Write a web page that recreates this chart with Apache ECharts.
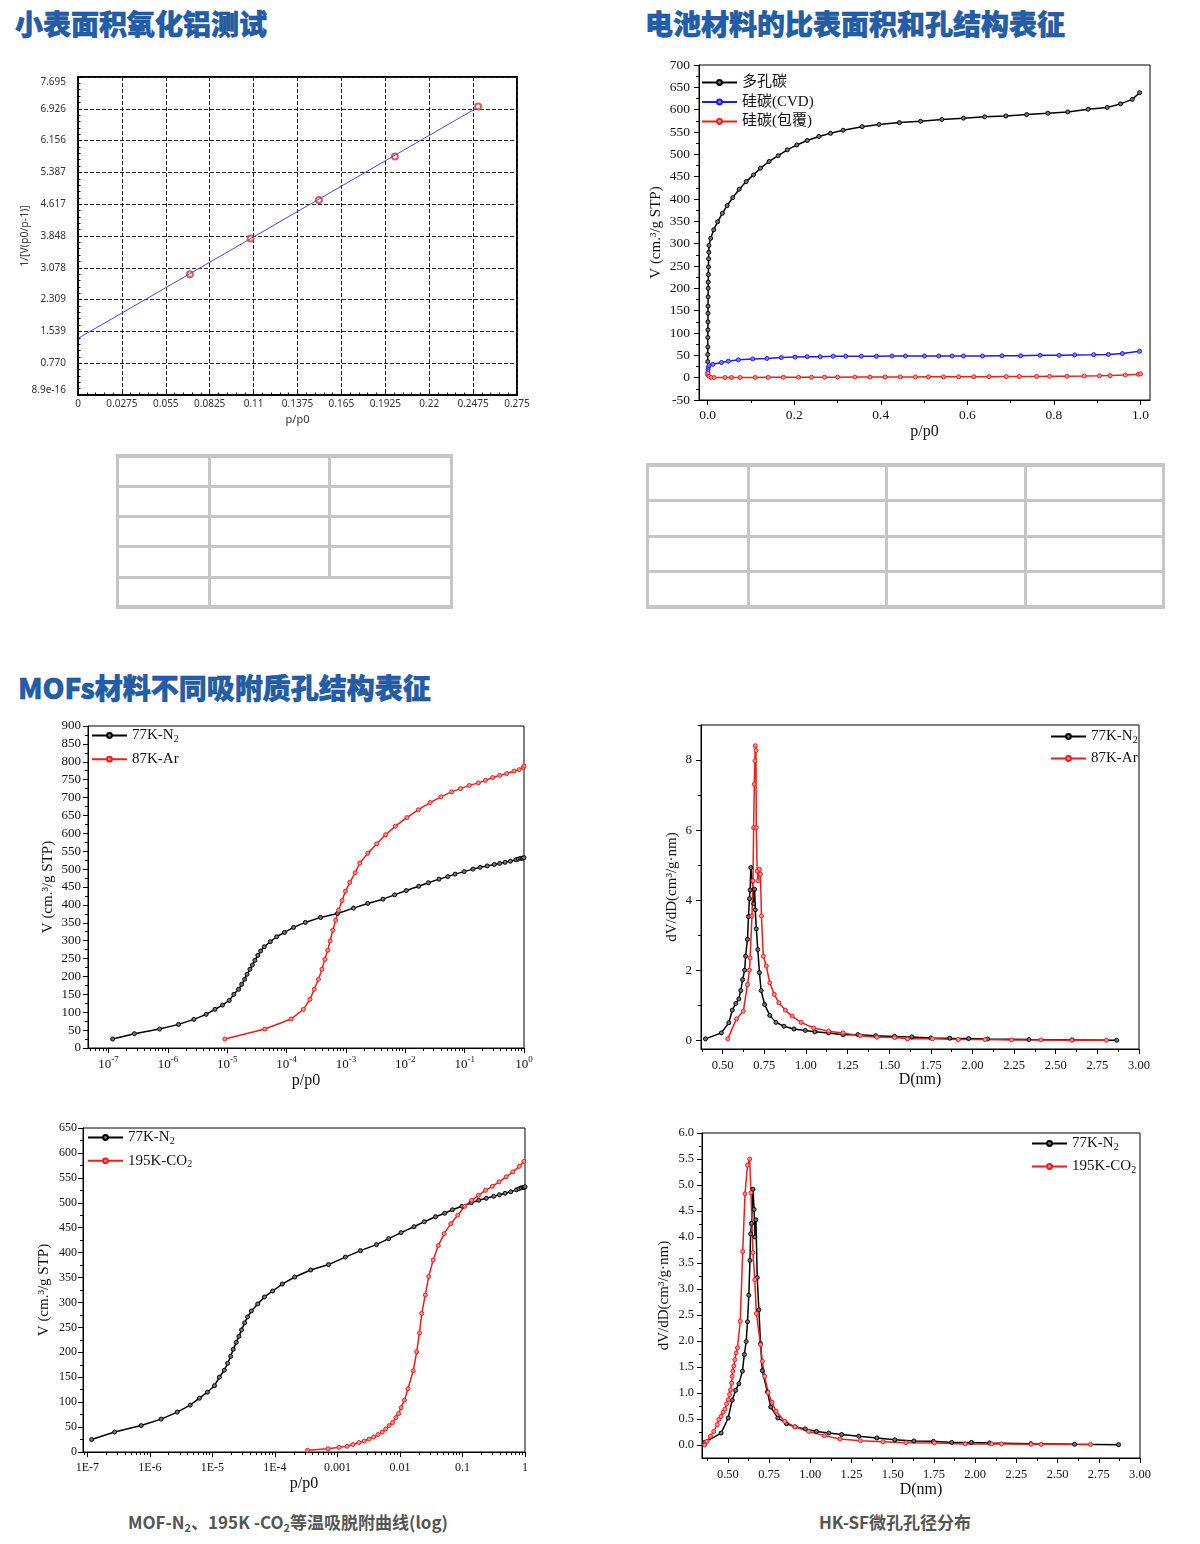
<!DOCTYPE html>
<html>
<head>
<meta charset="utf-8">
<script src="https://cdn.jsdelivr.net/npm/echarts@6/dist/echarts.min.js"></script>
<style>
body { margin: 0; width: 1200px; height: 1544px; position: relative; background: #fff; font-family: "Noto Sans CJK SC", sans-serif; }
.title { position: absolute; color: #1f5fae; font-weight: 900; font-size: 28px; line-height: 32px; white-space: nowrap; -webkit-text-stroke: 0.5px #17467f; }
.box { position: absolute; background: #fff; }
.caption { position: absolute; color: #555; font-weight: 700; font-size: 17px; line-height: 24px; white-space: nowrap; transform: translateX(-50%); }
.caption sub { font-size: 11px; vertical-align: -3px; line-height: 0; }
.ln { position: absolute; background: #c6c6c6; }
</style>
</head>
<body>
<div class="title" style="left:15px;top:7px">小表面积氧化铝测试</div>
<div class="title" style="left:645px;top:7px">电池材料的比表面积和孔结构表征</div>
<div class="title" style="left:18px;top:671px">MOFs材料不同吸附质孔结构表征</div>

<div id="c1" class="box" style="left:16px;top:60px;width:518px;height:373px"></div>
<div id="c2" class="box" style="left:640px;top:49px;width:530px;height:395px"></div>
<div id="c3" class="box" style="left:19px;top:703px;width:524px;height:394px"></div>
<div id="c4" class="box" style="left:31px;top:1113px;width:504px;height:384px"></div>
<div id="c5" class="box" style="left:655px;top:712px;width:505px;height:385px"></div>
<div id="c6" class="box" style="left:643px;top:1120px;width:525px;height:383px"></div>

<div class="caption" style="left:288px;top:1510px">MOF-N<sub>2</sub>、195K -CO<sub>2</sub>等温吸脱附曲线(log)</div>
<div class="caption" style="left:895px;top:1510px">HK-SF微孔孔径分布</div>

<script>
// ---- 小表面积氧化铝 BET ----
const betP = [0.0701, 0.1081, 0.1509, 0.1985, 0.2506];
const betY = [2.92, 3.79, 4.72, 5.77, 6.98];
const fitP = [0, 0.2486];
const fitY = [1.37, 6.92];
const betXLabels = ['0', '0.0275', '0.055', '0.0825', '0.11', '0.1375', '0.165', '0.1925', '0.22', '0.2475', '0.275'];
const betYLabels = ['8.9e-16', '0.770', '1.539', '2.309', '3.078', '3.848', '4.617', '5.387', '6.156', '6.926', '7.695'];

// ---- 电池材料等温线 ----
const pcP = [0.0002, 0.0003, 0.0004, 0.0005, 0.0006, 0.0007, 0.0008, 0.0009, 0.001, 0.0012, 0.0014, 0.0016, 0.0019, 0.0022, 0.0026, 0.003,
  0.007, 0.014, 0.023, 0.034, 0.045, 0.058, 0.073, 0.089, 0.106, 0.122, 0.142, 0.163, 0.184, 0.206, 0.230, 0.257, 0.284, 0.313, 0.357, 0.396,
  0.443, 0.492, 0.541, 0.591, 0.640, 0.689, 0.737, 0.786, 0.832, 0.879, 0.923, 0.954, 0.981, 0.998];
const pcV = [36, 52, 69, 90, 107, 125, 144, 160, 181, 200, 214, 231, 248, 266, 281, 296,
  312, 331, 349, 368, 385, 403, 422, 439, 454, 469, 484, 497, 510, 521, 531, 540, 547, 554, 562, 567,
  571, 574, 578, 581, 584, 586, 589, 592, 595, 601, 605, 613, 623, 638];
const cvdP = [0.0003, 0.0006, 0.001, 0.0015, 0.003, 0.012, 0.032, 0.048, 0.071, 0.104, 0.137, 0.170, 0.202, 0.230, 0.260, 0.290, 0.319, 0.355,
  0.390, 0.426, 0.457, 0.501, 0.534, 0.565, 0.591, 0.635, 0.680, 0.723, 0.768, 0.812, 0.848, 0.892, 0.926, 0.958, 0.998];
const cvdV = [6, 12, 18, 23, 27, 30, 34, 37, 40, 42, 43, 45, 46, 47, 47, 48, 48, 48,
  48, 48.5, 48.5, 48.5, 48.5, 48.5, 48.5, 48.5, 49, 49, 50, 50, 51, 51.5, 52, 54, 59];
const coatP = [0.0005, 0.003, 0.008, 0.015, 0.04, 0.055, 0.075, 0.11, 0.14, 0.175, 0.21, 0.24, 0.27, 0.30, 0.34, 0.375, 0.41, 0.445,
  0.48, 0.51, 0.545, 0.58, 0.615, 0.65, 0.69, 0.72, 0.76, 0.79, 0.83, 0.87, 0.905, 0.93, 0.965, 0.995, 1.0];
const coatV = [10, 3, 0.5, 0.3, 0.3, 0.4, 0.5, 0.6, 0.7, 0.8, 0.9, 1.0, 1.1, 1.2, 1.3, 1.4, 1.5, 1.6,
  1.7, 1.8, 1.9, 2.0, 2.1, 2.2, 2.4, 2.6, 2.8, 3.0, 3.3, 3.7, 4.2, 4.7, 5.8, 7.5, 8.5];
const c2XTicks = [0, 0.2, 0.4, 0.6, 0.8, 1.0];
const c2XLabels = ['0.0', '0.2', '0.4', '0.6', '0.8', '1.0'];
const c2YTicks = [-50, 0, 50, 100, 150, 200, 250, 300, 350, 400, 450, 500, 550, 600, 650, 700];

// ---- MOFs 等温线 (log) ----
const n2P = [1.17e-7, 2.72e-7, 7.24e-7, 1.51e-6, 2.74e-6, 4.4e-6, 6.2e-6, 8.3e-6, 1.08e-5, 1.29e-5, 1.55e-5, 1.75e-5, 1.96e-5, 2.15e-5,
  2.41e-5, 2.65e-5, 2.92e-5, 3.27e-5, 3.65e-5, 4.2e-5, 5.3e-5, 6.8e-5, 9.2e-5, 1.31e-4, 2.07e-4, 3.73e-4, 7.2e-4, 1.34e-3, 2.33e-3,
  4.2e-3, 6.6e-3, 1.04e-2, 1.68e-2, 2.45e-2, 3.7e-2, 5.2e-2, 6.9e-2, 9.8e-2, 0.138, 0.182, 0.24, 0.316, 0.39, 0.48, 0.59, 0.73, 0.8,
  0.87, 0.93, 0.97, 1.0];
const n2V = [25, 40, 53, 66, 80, 94, 108, 120, 133, 150, 164, 178, 192, 206,
  220, 232, 245, 259, 271, 283, 297, 311, 323, 337, 351, 365, 376, 391, 404,
  416, 428, 440, 452, 462, 472, 479, 486, 493, 500, 505, 509, 513, 516, 519, 522, 526, 528,
  530, 530.5, 531, 532];
const arP = [9.1e-6, 4.3e-5, 1.19e-4, 1.92e-4, 2.47e-4, 2.92e-4, 3.44e-4, 3.94e-4, 4.4e-4, 4.93e-4, 5.4e-4, 6.0e-4, 6.7e-4, 7.5e-4,
  8.6e-4, 9.8e-4, 1.16e-3, 1.43e-3, 1.71e-3, 2.33e-3, 3.3e-3, 4.65e-3, 6.8e-3, 1.06e-2, 1.66e-2, 2.62e-2, 3.98e-2, 6.0e-2, 8.5e-2,
  0.12, 0.17, 0.224, 0.296, 0.39, 0.51, 0.68, 0.83, 0.97, 1.0];
const arV = [25, 53, 81, 108, 136, 164, 192, 220, 248, 273, 299, 329, 357, 385,
  412, 438, 463, 490, 517, 544, 571, 596, 620, 644, 666, 686, 702, 716, 725,
  734, 741, 748, 756, 762, 767, 774, 778, 784, 788];
const co2P = [3.3e-4, 7.1e-4, 1.06e-3, 1.43e-3, 1.77e-3, 2.2e-3, 2.69e-3, 3.2e-3, 3.8e-3, 4.46e-3, 5.2e-3, 5.9e-3, 6.7e-3, 7.6e-3,
  8.6e-3, 9.5e-3, 1.04e-2, 1.18e-2, 1.34e-2, 1.63e-2, 1.85e-2, 2.05e-2, 2.23e-2, 2.54e-2, 2.88e-2, 3.39e-2, 4.1e-2, 5.1e-2, 6.5e-2,
  8.4e-2, 0.109, 0.14, 0.18, 0.233, 0.30, 0.385, 0.50, 0.64, 0.81, 0.96];
const co2V = [3.4, 6.7, 9.4, 11.5, 15, 19, 22, 26, 30, 35, 40, 46, 53, 59,
  69, 77, 89, 104, 127, 163, 201, 239, 278, 315, 352, 385, 414, 438, 458,
  475, 493, 505, 515, 525, 533, 542, 552, 562, 573, 583];
const logTicks = [1e-7, 1e-6, 1e-5, 1e-4, 1e-3, 1e-2, 1e-1, 1];
const c4XLabels = ['1E-7', '1E-6', '1E-5', '1E-4', '0.001', '0.01', '0.1', '1'];
const c3YTicks = [0, 50, 100, 150, 200, 250, 300, 350, 400, 450, 500, 550, 600, 650, 700, 750, 800, 850, 900];
const c4YTicks = [0, 50, 100, 150, 200, 250, 300, 350, 400, 450, 500, 550, 600, 650];

// ---- 孔径分布 ----
const arN2D = [0.397, 0.492, 0.537, 0.558, 0.579, 0.597, 0.609, 0.62, 0.632, 0.638, 0.649, 0.655, 0.661, 0.665, 0.669, 0.678, 0.686,
  0.692, 0.696, 0.702, 0.711, 0.721, 0.731, 0.752, 0.783, 0.820, 0.868, 0.928, 0.996, 1.054, 1.136, 1.223, 1.312, 1.419, 1.533,
  1.636, 1.75, 1.864, 1.977, 2.091, 2.339, 2.597, 2.866];
const arN2V = [0.04, 0.21, 0.50, 0.86, 1.05, 1.18, 1.42, 1.73, 2.0, 2.4, 2.88, 3.53, 4.04, 4.29, 4.93, 4.55, 3.9,
  4.31, 3.72, 3.18, 2.59, 1.93, 1.42, 1.02, 0.71, 0.51, 0.40, 0.32, 0.28, 0.24, 0.21, 0.16, 0.16, 0.13, 0.11,
  0.095, 0.067, 0.057, 0.048, 0.038, 0.019, 0.01, 0.0];
const arD = [0.531, 0.583, 0.624, 0.649, 0.661, 0.665, 0.676, 0.682, 0.686, 0.69, 0.694, 0.696, 0.70, 0.702, 0.707, 0.713, 0.721,
  0.727, 0.733, 0.744, 0.762, 0.783, 0.81, 0.837, 0.876, 0.917, 0.971, 1.047, 1.136, 1.223, 1.326, 1.426, 1.533, 1.61, 1.76,
  1.915, 2.076, 2.235, 2.411, 2.597, 2.804];
const arDV = [0.04, 0.61, 0.83, 1.59, 2.0, 2.35, 3.55, 4.55, 6.07, 7.31, 7.98, 8.41, 8.27, 6.07, 4.83, 4.55, 4.88,
  4.74, 3.55, 2.4, 2.12, 1.64, 1.31, 1.07, 0.86, 0.69, 0.51, 0.35, 0.26, 0.21, 0.13, 0.086, 0.076, 0.04, 0.04,
  0.02, 0.02, 0.01, 0.01, 0, 0];
const co2N2D = [0.359, 0.459, 0.502, 0.526, 0.547, 0.567, 0.588, 0.60, 0.611, 0.619, 0.627, 0.634, 0.638, 0.643, 0.652, 0.659, 0.664,
  0.670, 0.678, 0.688, 0.698, 0.709, 0.74, 0.76, 0.803, 0.855, 0.907, 0.97, 1.037, 1.112, 1.19, 1.294, 1.404, 1.513, 1.628,
  1.747, 1.858, 1.977, 2.087, 2.338, 2.603, 2.87];
const co2N2V = [0.05, 0.23, 0.52, 0.86, 1.05, 1.18, 1.42, 1.74, 1.99, 2.37, 2.88, 3.55, 4.06, 4.26, 4.92, 4.53, 4.0,
  4.33, 3.22, 2.6, 1.95, 1.43, 1.02, 0.73, 0.52, 0.41, 0.35, 0.31, 0.26, 0.23, 0.2, 0.17, 0.135, 0.10, 0.077,
  0.07, 0.05, 0.05, 0.04, 0.026, 0.013, 0.006];
const co2D = [0.359, 0.373, 0.394, 0.414, 0.435, 0.445, 0.459, 0.471, 0.482, 0.492, 0.502, 0.51, 0.516, 0.523, 0.526, 0.53, 0.536,
  0.542, 0.55, 0.558, 0.575, 0.59, 0.604, 0.619, 0.632, 0.64, 0.652, 0.663, 0.673, 0.698, 0.709, 0.723, 0.744, 0.768, 0.792,
  0.845, 0.907, 0.99, 1.085, 1.18, 1.304, 1.44, 1.58, 1.753, 1.94, 2.1, 2.16, 2.34, 2.4, 2.7];
const co2DV = [0, 0.07, 0.17, 0.26, 0.39, 0.49, 0.55, 0.63, 0.69, 0.79, 0.87, 0.97, 1.06, 1.19, 1.32, 1.42, 1.52,
  1.64, 1.77, 1.87, 2.38, 3.72, 4.83, 5.38, 5.5, 4.85, 3.7, 3.18, 2.53, 1.93, 1.61, 1.32, 1.01, 0.82, 0.65,
  0.455, 0.35, 0.26, 0.18, 0.115, 0.083, 0.064, 0.045, 0.038, 0.02, 0.02, 0.02, 0.013, 0.013, 0.01];
const dTicks = [0.5, 0.75, 1.0, 1.25, 1.5, 1.75, 2.0, 2.25, 2.5, 2.75, 3.0];
const dLabels = ['0.50', '0.75', '1.00', '1.25', '1.50', '1.75', '2.00', '2.25', '2.50', '2.75', '3.00'];
const c5YTicks = [0, 2, 4, 6, 8];
const c6YTicks = [0, 0.5, 1.0, 1.5, 2.0, 2.5, 3.0, 3.5, 4.0, 4.5, 5.0, 5.5, 6.0];

// ---- 表格线 ----
const t1Cols = [117, 209, 329, 451];
const t1Rows = [456, 486, 516, 546, 577, 607];
const t2Cols = [647, 748, 886, 1025, 1163];
const t2Rows = [465, 500, 536, 571, 607];

const serif = '"Liberation Serif","Times New Roman","Noto Sans CJK SC",serif';
const sans = '"Noto Sans","Noto Sans CJK SC",sans-serif';

function pairs(xs, ys) { return xs.map((x, i) => [x, ys[i]]); }
function mids(v) { const r = []; for (let i = 0; i < v.length - 1; i++) r.push((v[i] + v[i + 1]) / 2); return r; }
function labelFor(ticks, labels) {
  return v => { let b = 0; ticks.forEach((t, i) => { if (Math.abs(t - v) < Math.abs(ticks[b] - v)) b = i; }); return labels[b]; };
}
function logMinor(min, max) {
  const r = [];
  for (let e = -8; e < 0; e++) for (let k = 2; k <= 9; k++) { const v = k * Math.pow(10, e); if (v > min && v < max) r.push(v); }
  return r;
}

// Origin 风格坐标轴: 主刻度轴 + 次刻度轴
function originAxis(o) {
  const common = { type: o.type || 'value', min: o.min, max: o.max, position: o.position, splitLine: { show: false } };
  if (o.type === 'log') common.logBase = 10;
  return [
    Object.assign({}, common, {
      name: o.name, nameLocation: 'middle', nameGap: o.nameGap, nameMoveOverlap: false,
      nameTextStyle: { fontFamily: serif, fontSize: o.nameSize || 15, color: '#111' },
      axisLine: { show: true, onZero: false, lineStyle: { color: '#000', width: 1 } },
      axisTick: { show: true, length: 5, customValues: o.major, lineStyle: { color: '#000', width: 1 } },
      axisLabel: { customValues: o.major, margin: o.margin, formatter: o.fmt, fontFamily: serif, fontSize: o.size || 13, color: '#111', rich: o.rich }
    }),
    Object.assign({}, common, {
      axisLine: { show: false, onZero: false }, axisLabel: { show: false },
      axisTick: { show: true, length: 3, customValues: o.minor, lineStyle: { color: '#000', width: 1 } }
    })
  ];
}

function lineSeries(name, data, color, fill) {
  return {
    name, type: 'line', data, symbol: 'circle', symbolSize: 4, showAllSymbol: true,
    lineStyle: { color, width: 1.5 }, itemStyle: { color: fill, borderColor: color, borderWidth: 1 },
    emphasis: { disabled: true }
  };
}

function originLegend(names, left, top, gap) {
  return {
    data: names, orient: 'vertical', left, top, itemWidth: 35, itemHeight: 6, itemGap: gap,
    formatter: n => n.replace(/(\d)$/, '{sub|$1}'),
    textStyle: { fontFamily: serif, fontSize: 15, color: '#111',
      rich: { sub: { fontFamily: serif, fontSize: 10, color: '#111', verticalAlign: 'bottom', padding: [7, 0, 0, 0] } } }
  };
}

const gridBorder = { show: true, borderColor: '#000', borderWidth: 1, outerBoundsMode: 'none', containLabel: false };
const black = '#000', blackFill = '#777', red = '#ee1c1c', redFill = '#ff9090', blue = '#1a1aff', blueFill = '#8080ff';

// 图1
const c1 = echarts.init(document.getElementById('c1'));
c1.setOption({
  animation: false,
  grid: { left: 62, top: 17, right: 17, bottom: 38, show: true, borderColor: '#000', borderWidth: 2, outerBoundsMode: 'none', containLabel: false },
  xAxis: {
    type: 'value', min: 0, max: 0.275, interval: 0.0275,
    name: 'p/p0', nameLocation: 'middle', nameGap: 19, nameMoveOverlap: false, nameTextStyle: { fontFamily: sans, fontSize: 11, color: '#333' },
    axisLine: { onZero: false, lineStyle: { color: '#000', width: 2 } },
    axisTick: { show: true, inside: true, length: 4, lineStyle: { color: '#000' } },
    minorTick: { show: true, splitNumber: 5, length: 2.5, lineStyle: { color: '#000' } },
    axisLabel: { margin: 4, fontFamily: sans, fontSize: 10, color: '#333', formatter: v => betXLabels[Math.round(v / 0.0275)] },
    splitLine: { show: true, lineStyle: { color: '#222', type: [4, 2], width: 1 } }
  },
  yAxis: {
    type: 'value', min: 0, max: 7.695, interval: 0.7695,
    name: '1/[V(p0/p-1)]', nameLocation: 'middle', nameGap: 48, nameMoveOverlap: false, nameTextStyle: { fontFamily: sans, fontSize: 10.5, color: '#333' },
    axisLine: { onZero: false, lineStyle: { color: '#000', width: 2 } },
    axisTick: { show: true, inside: true, length: 4, lineStyle: { color: '#000' } },
    minorTick: { show: true, splitNumber: 5, length: 2.5, lineStyle: { color: '#000' } },
    axisLabel: { margin: 12, fontFamily: sans, fontSize: 10, color: '#333', verticalAlignMaxLabel: 'top', verticalAlignMinLabel: 'bottom',
      formatter: v => betYLabels[Math.round(v / 0.7695)] },
    splitLine: { show: true, lineStyle: { color: '#222', type: [4, 2], width: 1 } }
  },
  series: [
    { type: 'scatter', data: pairs(betP, betY), symbol: 'emptyCircle', symbolSize: 6, itemStyle: { color: '#e0302a', borderWidth: 1 } },
    { type: 'line', data: pairs(fitP, fitY), symbol: 'none', lineStyle: { color: '#4646f0', width: 1 } }
  ]
});

// 图2
const c2 = echarts.init(document.getElementById('c2'));
c2.setOption({
  animation: false,
  grid: Object.assign({ left: 59, top: 16, right: 20, bottom: 44 }, gridBorder),
  legend: originLegend(['多孔碳', '硅碳(CVD)', '硅碳(包覆)'], 56, 21, 4.5),
  xAxis: originAxis({ min: -0.02, max: 1.022, position: 'bottom', major: c2XTicks, minor: mids(c2XTicks),
    fmt: labelFor(c2XTicks, c2XLabels), margin: 9, size: 13.5, name: 'p/p0', nameGap: 24, nameSize: 16 }),
  yAxis: originAxis({ min: -50, max: 700, position: 'left', major: c2YTicks, minor: mids(c2YTicks),
    fmt: v => String(v), margin: 9, size: 13.5, name: 'V (cm.³/g STP)', nameGap: 35, nameSize: 15 }),
  series: [
    lineSeries('多孔碳', pairs(pcP, pcV), black, blackFill),
    lineSeries('硅碳(CVD)', pairs(cvdP, cvdV), blue, blueFill),
    lineSeries('硅碳(包覆)', pairs(coatP, coatV), red, redFill)
  ]
});

const supRich = {
  b: { fontFamily: serif, fontSize: 13, color: '#111', lineHeight: 20 },
  s: { fontFamily: serif, fontSize: 9, color: '#111', verticalAlign: 'top', lineHeight: 10 }
};

// 图3
const c3 = echarts.init(document.getElementById('c3'));
c3.setOption({
  animation: false,
  grid: Object.assign({ left: 69, top: 23, right: 19, bottom: 49 }, gridBorder),
  legend: originLegend(['77K-N2', '87K-Ar'], 67, 20, 7.7),
  xAxis: originAxis({ type: 'log', min: 4.5e-8, max: 1, position: 'bottom', major: logTicks, minor: logMinor(4.5e-8, 1),
    fmt: v => '{b|10}{s|' + Math.round(Math.log10(v)) + '}', rich: supRich, margin: 7, name: 'p/p0', nameGap: 25, nameSize: 16 }),
  yAxis: originAxis({ min: 0, max: 900, position: 'left', major: c3YTicks, minor: mids(c3YTicks),
    fmt: v => String(v), margin: 7, size: 13, name: 'V (cm.³/g STP)', nameGap: 32, nameSize: 15 }),
  series: [
    lineSeries('77K-N2', pairs(n2P, n2V), black, blackFill),
    lineSeries('87K-Ar', pairs(arP, arV), red, redFill)
  ]
});

// 图4
const c4 = echarts.init(document.getElementById('c4'));
c4.setOption({
  animation: false,
  grid: Object.assign({ left: 52, top: 15, right: 10, bottom: 45 }, gridBorder),
  legend: originLegend(['77K-N2', '195K-CO2'], 51, 12, 7.3),
  xAxis: originAxis({ type: 'log', min: 8.5e-8, max: 1, position: 'bottom', major: logTicks, minor: logMinor(8.5e-8, 1),
    fmt: labelFor(logTicks, c4XLabels), margin: 10, size: 12, name: 'p/p0', nameGap: 24, nameSize: 16 }),
  yAxis: originAxis({ min: 0, max: 650, position: 'left', major: c4YTicks, minor: mids(c4YTicks),
    fmt: v => String(v), margin: 6, size: 12, name: 'V (cm.³/g STP)', nameGap: 31, nameSize: 15 }),
  series: [
    lineSeries('77K-N2', pairs(n2P, n2V), black, blackFill),
    lineSeries('195K-CO2', pairs(co2P, co2V), red, redFill)
  ]
});

// 图5
const c5 = echarts.init(document.getElementById('c5'));
c5.setOption({
  animation: false,
  grid: Object.assign({ left: 46, top: 13, right: 21, bottom: 48 }, gridBorder),
  legend: originLegend(['77K-N2', '87K-Ar'], 390, 12, 6),
  xAxis: originAxis({ min: 0.37, max: 3.0, position: 'bottom', major: dTicks, minor: [0.375].concat(mids(dTicks)),
    fmt: labelFor(dTicks, dLabels), margin: 10, size: 12.5, name: 'D(nm)', nameGap: 23, nameSize: 16 }),
  yAxis: originAxis({ min: -0.25, max: 9, position: 'left', major: c5YTicks, minor: [1, 3, 5, 7, 9],
    fmt: v => String(v), margin: 9, size: 13, name: 'dV/dD(cm³/g·nm)', nameGap: 21, nameSize: 15 }),
  series: [
    lineSeries('77K-N2', pairs(arN2D, arN2V), black, blackFill),
    lineSeries('87K-Ar', pairs(arD, arDV), red, redFill)
  ]
});

// 图6
const c6 = echarts.init(document.getElementById('c6'));
c6.setOption({
  animation: false,
  grid: Object.assign({ left: 59, top: 13, right: 28, bottom: 45 }, gridBorder),
  legend: originLegend(['77K-N2', '195K-CO2'], 383, 11, 7),
  xAxis: originAxis({ min: 0.343, max: 3.0, position: 'bottom', major: dTicks, minor: [0.375].concat(mids(dTicks)),
    fmt: labelFor(dTicks, dLabels), margin: 10, size: 12.5, name: 'D(nm)', nameGap: 24, nameSize: 16 }),
  yAxis: originAxis({ min: -0.25, max: 6.0, position: 'left', major: c6YTicks, minor: mids(c6YTicks),
    fmt: v => v.toFixed(1), margin: 8, size: 12.5, name: 'dV/dD(cm³/g·nm)', nameGap: 30, nameSize: 15 }),
  series: [
    lineSeries('77K-N2', pairs(co2N2D, co2N2V), black, blackFill),
    lineSeries('195K-CO2', pairs(co2D, co2DV), red, redFill)
  ]
});

// 空表格
function line(x, y, w, h) {
  const d = document.createElement('div');
  d.className = 'ln';
  d.style.left = x + 'px'; d.style.top = y + 'px'; d.style.width = w + 'px'; d.style.height = h + 'px';
  document.body.appendChild(d);
}
function drawTable(cols, rows, shortCol) {
  const x0 = cols[0], x1 = cols[cols.length - 1], y0 = rows[0], y1 = rows[rows.length - 1];
  rows.forEach((y, i) => {
    const t = (i === 0 || i === rows.length - 1) ? 4 : 3;
    line(x0 - 1.5, y - t / 2, x1 - x0 + 3, t);
  });
  cols.forEach((x, i) => {
    const end = (shortCol === i) ? rows[rows.length - 2] : y1;
    line(x - 1.5, y0, 3, end - y0);
  });
}
drawTable(t1Cols, t1Rows, 2);
drawTable(t2Cols, t2Rows, -1);
</script>
</body>
</html>
